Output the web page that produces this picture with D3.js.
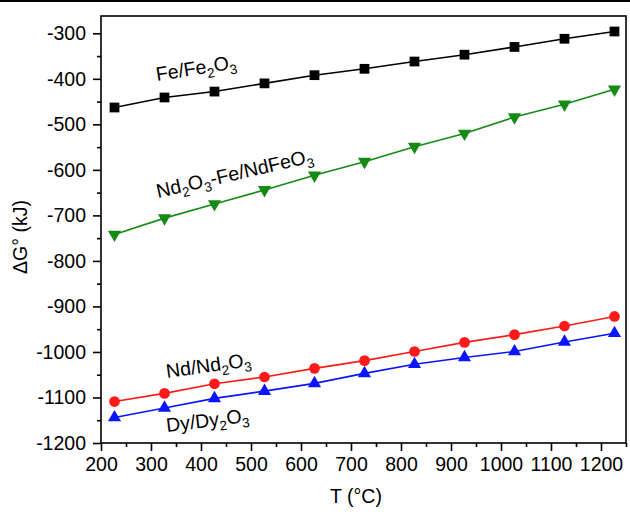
<!DOCTYPE html>
<html>
<head>
<meta charset="utf-8">
<script src="https://cdn.jsdelivr.net/npm/d3@7"></script>
<style>
  body { margin: 0; background: #fff; }
  svg { display: block; font-family: "Liberation Sans", Arial, sans-serif; }
</style>
</head>
<body>
<script>
// temperatures (°C)
var temps = [227, 327, 427, 527, 627, 727, 827, 927, 1027, 1127, 1227];

// ΔG° values (kJ)
var feFe2O3 = [-463, -441, -428, -410, -392, -378, -362, -347, -330, -312, -296];
var nd2o3Fe = [-742, -706, -675, -644, -612, -582, -549, -520, -484, -456, -423];
var ndNd2O3 = [-1109, -1091, -1070, -1055, -1036, -1019, -999, -979, -962, -943, -922];
var dyDy2O3 = [-1144, -1123, -1102, -1086, -1069, -1047, -1027, -1012, -999, -978, -959];

var xTicks = [200, 300, 400, 500, 600, 700, 800, 900, 1000, 1100, 1200];
var yTicks = [-1200, -1100, -1000, -900, -800, -700, -600, -500, -400, -300];

var series = [
    {name: "Fe/Fe2O3", values: feFe2O3, color: "#000000", marker: "square",
     label: [["Fe/Fe", ""], ["2", "sub"], ["O", ""], ["3", "sub"]], lx: 157, ly: 81, rot: -9},
    {name: "Nd2O3-Fe/NdFeO3", values: nd2o3Fe, color: "#158a15", marker: "down",
     label: [["Nd", ""], ["2", "sub"], ["O", ""], ["3", "sub"], ["-Fe/NdFeO", ""], ["3", "sub"]], lx: 158, ly: 198, rot: -13},
    {name: "Nd/Nd2O3", values: ndNd2O3, color: "#ff1a1a", marker: "circle",
     label: [["Nd/Nd", ""], ["2", "sub"], ["O", ""], ["3", "sub"]], lx: 167, ly: 378, rot: -8},
    {name: "Dy/Dy2O3", values: dyDy2O3, color: "#0a14ff", marker: "up",
     label: [["Dy/Dy", ""], ["2", "sub"], ["O", ""], ["3", "sub"]], lx: 167, ly: 432, rot: -7}
];

var W = 630, H = 512;
var plotL = 101, plotR = 626, plotT = 16, plotB = 443;

var svg = d3.select("body").append("svg")
    .attr("width", W).attr("height", H);

// border line along the top of the image
svg.append("line")
    .attr("x1", 0).attr("x2", W).attr("y1", 1).attr("y2", 1)
    .attr("stroke", "#000").attr("stroke-width", 2);

var x = d3.scaleLinear().domain([200, 1250]).range([plotL, plotR]);
var y = d3.scaleLinear().domain([-1200, -262]).range([plotB, plotT]);

// frame
svg.append("rect")
    .attr("x", plotL).attr("y", plotT)
    .attr("width", plotR - plotL).attr("height", plotB - plotT)
    .attr("fill", "none").attr("stroke", "#000").attr("stroke-width", 1.6);

// axes
var xAxis = svg.append("g").attr("transform", "translate(0," + plotB + ")")
    .call(d3.axisBottom(x).tickValues(xTicks).tickSize(8).tickPadding(6).tickFormat(d3.format("d")));
var xMinor = svg.append("g").attr("transform", "translate(0," + plotB + ")")
    .call(d3.axisBottom(x).tickValues(xTicks.map(function(d) { return d + 50; })).tickSize(4).tickFormat(""));

var yAxis = svg.append("g").attr("transform", "translate(" + plotL + ",0)")
    .call(d3.axisLeft(y).tickValues(yTicks).tickSize(8).tickPadding(7).tickFormat(d3.format("d")));
var yMinor = svg.append("g").attr("transform", "translate(" + plotL + ",0)")
    .call(d3.axisLeft(y).tickValues(yTicks.slice(0, -1).map(function(d) { return d + 50; })).tickSize(4).tickFormat(""));

[xAxis, xMinor, yAxis, yMinor].forEach(function(g) {
    g.select(".domain").remove();
    g.selectAll("line").attr("stroke", "#000").attr("stroke-width", 1.6);
    g.selectAll("text").attr("fill", "#000").style("font-size", "19.5px")
        .style("font-family", "'Liberation Sans', Arial, sans-serif");
});
// plain hyphen minus, as in the reference
yAxis.selectAll("text").text(function(d) { return "-" + Math.abs(d); });

// axis titles
svg.append("text")
    .attr("x", 356).attr("y", 503)
    .attr("text-anchor", "middle")
    .style("font-size", "19.5px")
    .text("T (\u00B0C)");

svg.append("text")
    .attr("transform", "translate(27,237) rotate(-90)")
    .attr("text-anchor", "middle")
    .style("font-size", "19.5px")
    .text("\u0394G\u00B0 (kJ)");

var line = d3.line()
    .x(function(d, i) { return x(temps[i]); })
    .y(function(d) { return y(d); });

var sq = d3.symbol().type(d3.symbolSquare).size(95);
var circ = d3.symbol().type(d3.symbolCircle).size(90);
var tri = d3.symbol().type(d3.symbolTriangle).size(75);

series.forEach(function(s) {
    var g = svg.append("g");
    g.append("path")
        .attr("d", line(s.values))
        .attr("fill", "none")
        .attr("stroke", s.color)
        .attr("stroke-width", 1.6);

    g.selectAll("path.pt").data(s.values).enter().append("path")
        .attr("class", "pt")
        .attr("d", function() {
            if (s.marker === "square") return sq();
            if (s.marker === "circle") return circ();
            return tri();
        })
        .attr("transform", function(d, i) {
            var t = "translate(" + x(temps[i]) + "," + y(d) + ")";
            if (s.marker === "down") t += " rotate(180)";
            return t;
        })
        .attr("fill", s.color);

    var txt = svg.append("text")
        .attr("transform", "translate(" + s.lx + "," + s.ly + ") rotate(" + s.rot + ")")
        .style("font-size", "19.5px")
        .attr("fill", "#000");
    var shifted = false;
    s.label.forEach(function(p) {
        var ts = txt.append("tspan").text(p[0]);
        if (p[1] === "sub") {
            ts.style("font-size", "13.5px").attr("dy", 5);
            shifted = true;
        } else if (shifted) {
            ts.attr("dy", -5);
            shifted = false;
        }
    });
});
</script>
</body>
</html>
